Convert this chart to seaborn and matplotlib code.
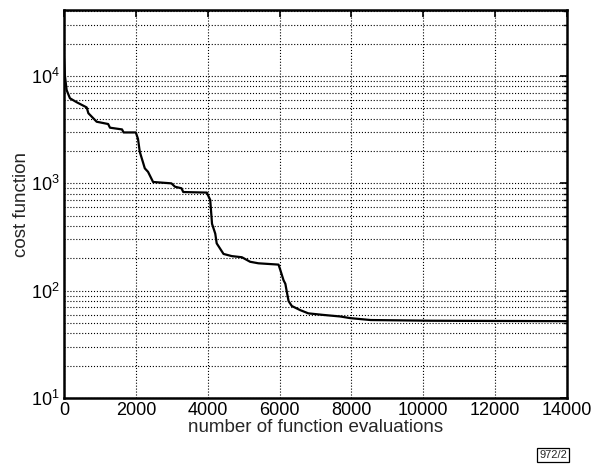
import numpy as np
import pandas as pd
import matplotlib
matplotlib.use("Agg")
import matplotlib.pyplot as plt
import seaborn as sns

# cost function vs. number of evaluations
evaluations = [0, 28, 75, 167, 354, 632, 680, 911, 1230, 1281, 1616, 1660,
               2000, 2060, 2110, 2250, 2340, 2480, 2990, 3090, 3270, 3320,
               3975, 4070, 4120, 4210, 4250, 4440, 4670, 4950, 5180, 5410,
               5970, 6020, 6110, 6160, 6200, 6250, 6340, 6570, 6800, 7210,
               7690, 7970, 8530, 10200, 14000]
cost = [15000, 10000, 7400, 6200, 5700, 5100, 4500, 3750, 3570, 3300, 3180, 2980,
        2980, 2600, 1970, 1380, 1280, 1030, 1000, 930, 900, 830,
        820, 700, 420, 340, 276, 220, 210, 205, 186, 180,
        175, 156, 125, 116, 98, 80, 72, 66, 61.5, 59.5,
        57.5, 55.5, 53.3, 52.5, 52]

x_ticks = [0, 2000, 4000, 6000, 8000, 10000, 12000, 14000]

df = pd.DataFrame({"evals": evaluations, "cost": cost})

sns.set_style("white")
plt.rcParams["font.family"] = ["Liberation Sans", "DejaVu Sans"]
plt.rcParams["mathtext.fontset"] = "custom"
plt.rcParams["mathtext.rm"] = "Liberation Sans"

fig = plt.figure(figsize=(5.92, 4.65), dpi=100)
ax = fig.add_axes([0.108, 0.144, 0.850, 0.834])

sns.lineplot(data=df, x="evals", y="cost", ax=ax, color="black",
             linewidth=1.6, sort=False, estimator=None)

ax.set_yscale("log")
ax.set_xlim(0, 14000)
ax.set_ylim(10, 41000)
ax.set_xticks(x_ticks)
ax.set_xticklabels([str(t) for t in x_ticks])
ax.yaxis.set_minor_locator(matplotlib.ticker.LogLocator(base=10, subs=np.arange(2, 10)))
ax.yaxis.set_minor_formatter(matplotlib.ticker.NullFormatter())

ax.grid(True, which="major", axis="both", color="black", linestyle=":", linewidth=0.8)
ax.grid(True, which="minor", axis="y", color="black", linestyle=":", linewidth=0.8)

for s in ax.spines.values():
    s.set_color("black")
    s.set_linewidth(1.8)

ax.tick_params(which="both", direction="in", top=True, right=True, colors="black")
ax.tick_params(which="major", length=5, width=1.2, labelsize=13, pad=3)
ax.tick_params(which="minor", length=3, width=1.0)

ax.set_xlabel("number of function evaluations", fontsize=13.5, labelpad=0)
ax.set_ylabel("cost function", fontsize=13.5, labelpad=1)

fig.text(0.958, 0.011, "972/2", fontsize=8, ha="right", va="bottom",
         bbox=dict(boxstyle="square,pad=0.2", fc="white", ec="black", lw=0.9))

fig.savefig("out.png", dpi=100)
